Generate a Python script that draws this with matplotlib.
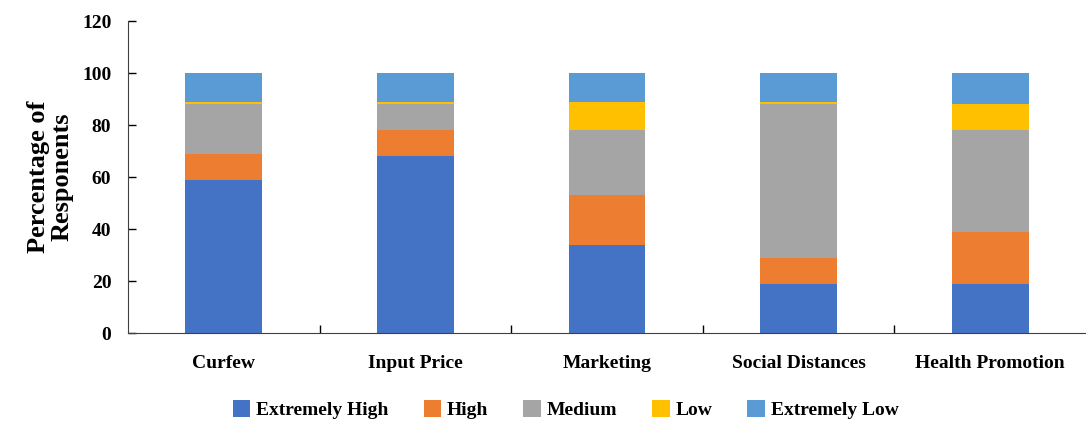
import numpy as np
import matplotlib.pyplot as plt

categories = ["Curfew", "Input Price", "Marketing", "Social Distances", "Health Promotion"]
levels = ["Extremely High", "High", "Medium", "Low", "Extremely Low"]
extremely_high = [59, 68, 34, 19, 19]
high = [10, 10, 19, 10, 20]
medium = [19, 10, 25, 59, 39]
low = [1, 1, 11, 1, 10]
extremely_low = [11, 11, 11, 11, 12]
colors = ["#4472C4", "#ED7D31", "#A5A5A5", "#FFC000", "#5B9BD5"]

plt.rcParams["font.family"] = ["Liberation Serif", "DejaVu Serif"]
plt.rcParams["font.weight"] = "bold"

fig = plt.figure(figsize=(10.86, 4.21), dpi=100)
ax = fig.add_axes([128 / 1086, 88 / 421, 958 / 1086, 312 / 421])

x = np.arange(len(categories))
bottom = np.zeros(len(categories))
for name, vals, c in zip(levels, [extremely_high, high, medium, low, extremely_low], colors):
    ax.bar(x, vals, 0.4, bottom=bottom, color=c, label=name)
    bottom += np.array(vals)

ax.set_xlim(-0.5, 4.5)
ax.set_ylim(0, 120)
ax.set_yticks(range(0, 121, 20))
ax.set_xticks(x)
ax.set_xticklabels(categories, fontsize=14, fontweight="bold")
ax.set_xticks(np.arange(0.5, 4, 1), minor=True)
ax.tick_params(axis="x", which="major", length=0, pad=16)
ax.tick_params(axis="x", which="minor", direction="in", length=6, width=1)
ax.tick_params(axis="y", direction="in", length=6, width=1, pad=12, labelsize=14)
for lab in ax.get_yticklabels():
    lab.set_fontweight("bold")

ax.spines["top"].set_visible(False)
ax.spines["right"].set_visible(False)
for s in ["left", "bottom"]:
    ax.spines[s].set_color("#404040")

ax.set_ylabel("Percentage of\nResponents", fontsize=19, fontweight="bold", labelpad=6, linespacing=1.05)

ax.legend(loc="upper center", bbox_to_anchor=(0.457, -0.16), ncol=5, frameon=False,
          prop={"size": 14, "weight": "bold"}, handlelength=0.9, handleheight=0.9,
          handletextpad=0.3, columnspacing=1.8)

fig.savefig("out.png", dpi=100)
